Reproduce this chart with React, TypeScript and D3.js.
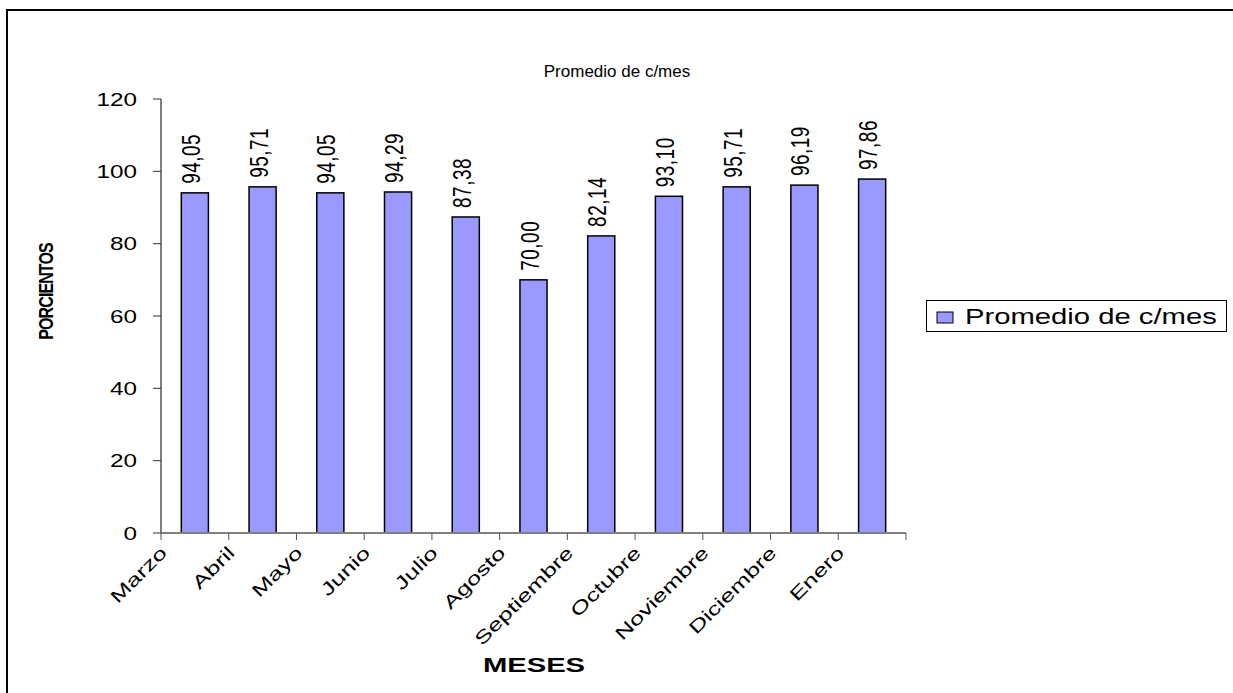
import React from "react";
import * as d3 from "d3";

const categories = ["Marzo", "Abril", "Mayo", "Junio", "Julio", "Agosto", "Septiembre", "Octubre", "Noviembre", "Diciembre", "Enero"];
const values = [94.05, 95.71, 94.05, 94.29, 87.38, 70.0, 82.14, 93.1, 95.71, 96.19, 97.86];
const yTicks = [0, 20, 40, 60, 80, 100, 120];
const seriesName = "Promedio de c/mes";
const chartTitle = "Promedio de c/mes";
const xTitle = "MESES";
const yTitle = "PORCIENTOS";

const W = 1233;
const H = 693;
const FONT = "'Liberation Sans', Arial, sans-serif";

export default function App() {
  const plot = { left: 161, right: 906, top: 99, bottom: 533 };
  const x = d3
    .scaleBand<string>()
    .domain(categories)
    .range([plot.left, plot.right])
    .paddingInner(0.6)
    .paddingOuter(0.3);
  const y = d3.scaleLinear().domain([0, 120]).range([plot.bottom, plot.top]);
  const step = x.step();
  const boundaries = d3.range(categories.length + 1).map((i) => plot.left + i * step);
  const fmt = (v: number) => v.toFixed(2).replace(".", ",");

  return (
    <div style={{ position: "fixed", left: 0, top: 0, width: W, height: H, background: "#fff" }}>
      <svg width={W} height={H} style={{ display: "block" }} fontFamily={FONT}>
        <rect x={0} y={0} width={W} height={H} fill="#fff" />
        {/* frame (only top and left edges visible) */}
        <path d={`M7,${H} V10 H${W}`} fill="none" stroke="#000" strokeWidth={2} />

        {/* title */}
        <text transform={`translate(617,77)`} textAnchor="middle" fontSize={17} fill="#000">
          {chartTitle}
        </text>

        {/* y axis */}
        <line x1={plot.left} x2={plot.left} y1={plot.top} y2={plot.bottom} stroke="#000" strokeWidth={1} />
        {yTicks.map((t) => (
          <g key={t}>
            <line x1={plot.left - 8} x2={plot.left} y1={y(t)} y2={y(t)} stroke="#333" strokeWidth={1} />
            <text transform={`translate(137,${y(t) + 6.5}) scale(1.35,1)`} textAnchor="end" fontSize={18} fill="#000">
              {t}
            </text>
          </g>
        ))}

        {/* bars */}
        {values.map((v, i) => (
          <rect
            key={categories[i]}
            x={x(categories[i])!}
            y={y(v)}
            width={x.bandwidth()}
            height={y(0) - y(v)}
            fill="#9999FF"
            stroke="#000"
            strokeWidth={1.5}
          />
        ))}

        {/* x axis */}
        <line x1={plot.left} x2={plot.right} y1={plot.bottom} y2={plot.bottom} stroke="#808080" strokeWidth={2} />
        {boundaries.map((bx, i) => (
          <line key={i} x1={bx} x2={bx} y1={plot.bottom} y2={plot.bottom + 7} stroke="#555" strokeWidth={1} />
        ))}

        {/* x tick labels */}
        {categories.map((c, i) => (
          <text
            key={c}
            transform={`translate(${boundaries[i] + 7},554) rotate(-45) scale(1.42,1)`}
            textAnchor="end"
            fontSize={18}
            fill="#000"
          >
            {c}
          </text>
        ))}

        {/* data labels */}
        {values.map((v, i) => (
          <text
            key={"l" + i}
            transform={`translate(${x(categories[i])! + x.bandwidth() / 2 + 5},${y(v) - 9}) scale(1.33,1) rotate(-90)`}
            textAnchor="start"
            fontSize={19}
            letterSpacing={0.5}
            fill="#000"
          >
            {fmt(v)}
          </text>
        ))}

        {/* axis titles */}
        <text transform={`translate(534,672) scale(1.39,1)`} textAnchor="middle" fontSize={21} fontWeight="bold" fill="#000">
          {xTitle}
        </text>
        <text
          transform={`translate(53,291.5) scale(1.25,1) rotate(-90)`}
          textAnchor="middle"
          fontSize={16}
          fontWeight="bold"
          letterSpacing={-0.9}
          fill="#000"
        >
          {yTitle}
        </text>

        {/* legend */}
        <rect x={926.5} y={300.5} width={300} height={31} fill="#fff" stroke="#000" strokeWidth={1} />
        <rect x={937} y={312} width={16} height={11} fill="#9999FF" stroke="#000" strokeWidth={1} />
        <text transform={`translate(965,324) scale(1.36,1)`} fontSize={21.5} fill="#000">
          {seriesName}
        </text>
      </svg>
    </div>
  );
}
